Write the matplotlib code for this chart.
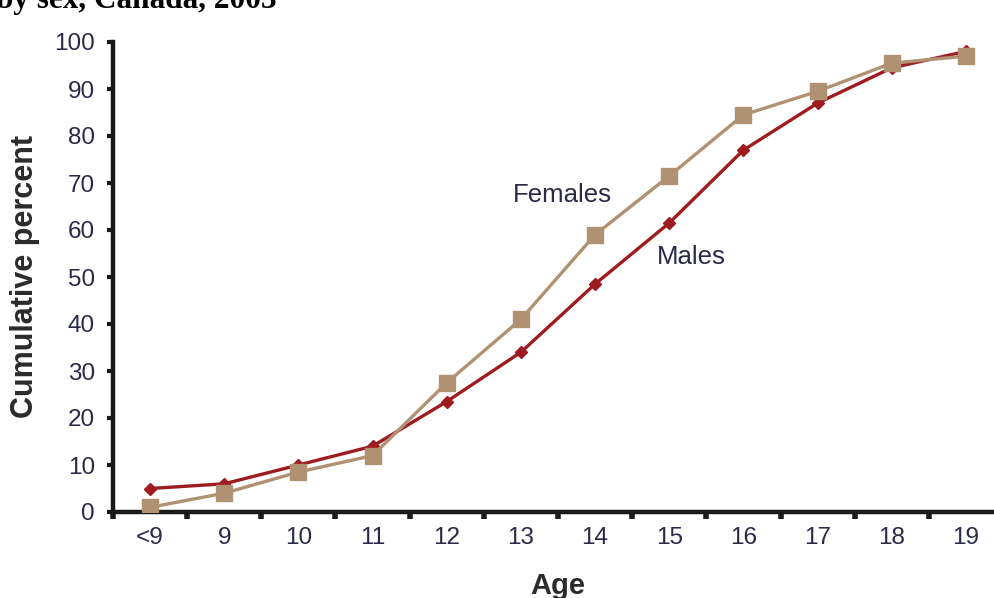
import matplotlib
matplotlib.use("Agg")
import matplotlib.pyplot as plt

plt.rcParams['font.family'] = ['Liberation Sans', 'DejaVu Sans']

ages = ['<9', '9', '10', '11', '12', '13', '14', '15', '16', '17', '18', '19']
males = [5, 6, 10, 14, 23.5, 34, 48.5, 61.5, 77, 87, 94.5, 98]
females = [1, 4, 8.5, 12, 27.5, 41, 59, 71.5, 84.5, 89.5, 95.5, 97]

male_col = '#9e1b20'
female_col = '#b09272'
txt_col = '#2a2a48'

fig = plt.figure(figsize=(9.95, 5.98), dpi=100)
ax = fig.add_axes([113 / 995, 1 - 512 / 598, 890 / 995, 470 / 598])

x = list(range(len(ages)))
ax.plot(x, males, color=male_col, lw=2.4, marker='D', ms=6.5, zorder=3)
ax.plot(x, females, color=female_col, lw=2.4, marker='s', ms=11, zorder=4)

ax.set_xlim(-0.5, 11.5)
ax.set_ylim(0, 100)
ax.set_yticks(range(0, 101, 10))
ax.set_xticks(x, ages)
ax.set_xticks([i + 0.5 for i in range(-1, 12)], minor=True)
ax.tick_params(axis='x', which='major', length=0, pad=11, labelsize=17.5, labelcolor=txt_col)
ax.tick_params(axis='x', which='minor', length=5, width=4, direction='out', color='#1a1a1a')
ax.tick_params(axis='y', length=4, width=3, pad=9, labelsize=17.5, labelcolor=txt_col, color='#1a1a1a')

for s in ['top', 'right']:
    ax.spines[s].set_visible(False)
for s in ['left', 'bottom']:
    ax.spines[s].set_linewidth(3.2)
    ax.spines[s].set_color('#1a1a1a')
    ax.spines[s].set_capstyle('projecting')

ax.text(4.89, 66, 'Females', fontsize=18.5, color=txt_col)
ax.text(6.83, 52.8, 'Males', fontsize=18.5, color=txt_col)

ax.set_xlabel('Age', fontsize=21, fontweight='bold', color='#2b2b2b', labelpad=16)
ax.set_ylabel('Cumulative percent', fontsize=22, fontweight='bold', color='#2b2b2b', labelpad=10)

fig.text(-0.004, 1 - 8 / 598, 'by sex, Canada, 2003', va='baseline', ha='left',
         fontsize=22.5, fontweight='bold', family='Liberation Serif', color='black')

fig.savefig('out.png', dpi=100)
